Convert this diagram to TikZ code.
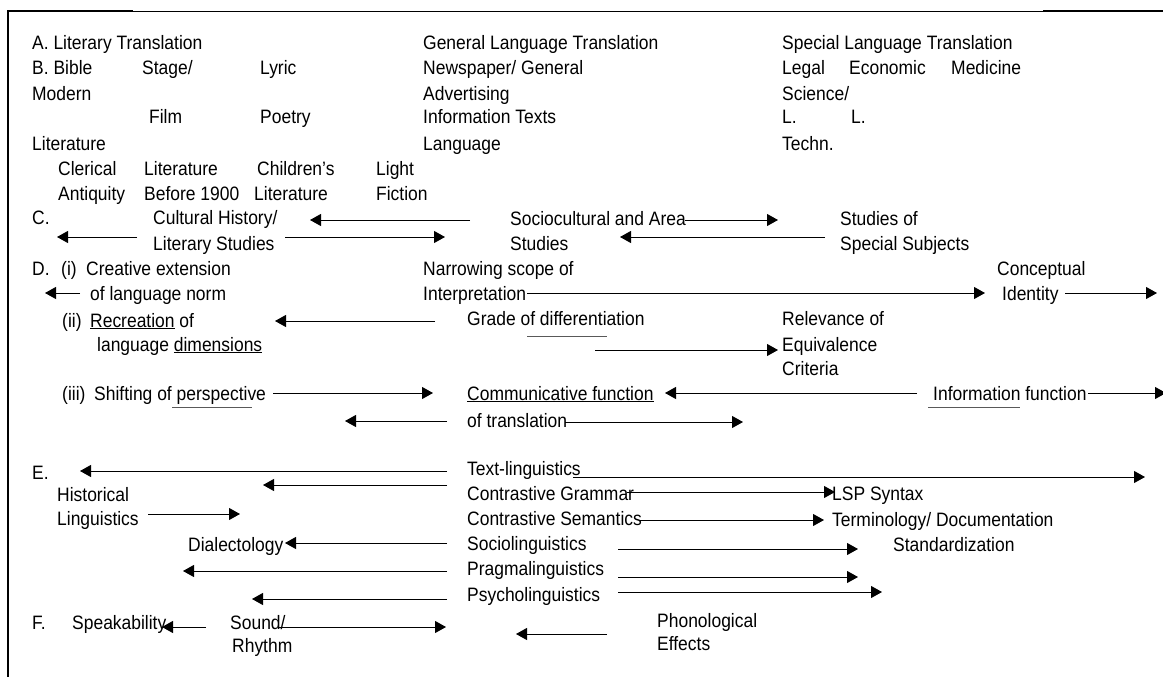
\documentclass[tikz,border=0pt]{standalone}
\usepackage{fontspec}
\setmainfont{Liberation Sans}[FakeStretch=0.9]
\usetikzlibrary{arrows.meta}
\newcommand\myul[1]{\setbox0\hbox{#1}\rlap{\rule[-2.2pt]{\wd0}{1.2pt}}\box0\relax}
\newcommand\tx[4]{\node[txt] (#1) at (#2,#3+7) {#4};}
\newcommand\conn[3]{\coordinate (#1a) at (#2); \coordinate (#1b) at (#3); \draw[arr] (#1a) -- (#1b);}
\tikzset{
  txt/.style={anchor=base west, inner sep=0pt, font=\fontsize{19.4}{22}\selectfont},
  arr/.style={-{Triangle[length=11pt,width=12pt]}, line width=1pt},
  thinline/.style={line width=1pt, draw=black!65},
}
\begin{document}
\begin{tikzpicture}[x=1pt,y=-1pt]
\fill[white] (0,0) rectangle (1163,677);
\useasboundingbox (0,0) rectangle (1163,677);
% frame
\draw[line width=2pt] (8,677) -- (8,11) -- (133,11);
\draw[line width=1pt] (133,12) -- (1043,12);
\draw[line width=2pt] (1043,11) -- (1163,11);
% A / B rows
\tx{a1}{32}{43}{A. Literary Translation}
\tx{gl}{423}{43}{General Language Translation}
\tx{sl}{782}{43}{Special Language Translation}
\tx{b1}{32}{68}{B. Bible}
\tx{b2}{142}{68}{Stage/}
\tx{b3}{260}{68}{Lyric}
\tx{b4}{423}{68}{Newspaper/ General}
\tx{b5}{782}{68}{Legal}
\tx{b6}{849}{68}{Economic}
\tx{b7}{951}{68}{Medicine}
\tx{m1}{32}{93}{Modern}
\tx{m2}{423}{93}{Advertising}
\tx{m3}{782}{93}{Science/}
\tx{f1}{149}{117}{Film}
\tx{f2}{260}{117}{Poetry}
\tx{f3}{423}{117}{Information Texts}
\tx{f4}{782}{117}{L.}
\tx{f5}{851}{117}{L.}
\tx{l1}{32}{143}{Literature}
\tx{l2}{423}{143}{Language}
\tx{l3}{782}{143}{Techn.}
\tx{c1}{58}{168}{Clerical}
\tx{c2}{144}{168}{Literature}
\tx{c3}{257}{168}{Children’s}
\tx{c4}{376}{168}{Light}
\tx{d1}{58}{193}{Antiquity}
\tx{d2}{144}{193}{Before 1900}
\tx{d3}{254}{193}{Literature}
\tx{d4}{376}{193}{Fiction}
% C row
\tx{C}{32}{217}{C.}
\tx{ch}{153}{217}{Cultural History/}
\tx{sc}{510}{218}{Sociocultural and Area}
\tx{so}{840}{218}{Studies of}
\tx{ls}{153}{243}{Literary Studies}
\tx{st}{510}{243}{Studies}
\tx{ss}{840}{243}{Special Subjects}
\conn{k1}{470,220}{310,220}
\conn{k2}{685,220}{778,220}
\conn{k3}{137,237}{57,237}
\conn{k4}{285,237}{445,237}
\conn{k5}{825,237}{620,237}
% D rows
\tx{D}{32}{268}{D.}
\tx{Di}{61}{268}{(i)}
\tx{ce}{86}{268}{Creative extension}
\tx{ns}{423}{268}{Narrowing scope of}
\tx{cp}{997}{268}{Conceptual}
\tx{ln}{90}{293}{of language norm}
\tx{ip}{423}{293}{Interpretation}
\tx{id}{1002}{293}{Identity}
\conn{k6}{80,293}{45,293}
\conn{k7}{527,293}{985,293}
\conn{k8}{1065,293}{1157,293}
\tx{ii}{62}{320}{(ii)}
\tx{rc}{90}{320}{\myul{Recreation} of}
\tx{gd}{467}{318}{Grade of differentiation}
\tx{rv}{782}{318}{Relevance of}
\conn{k9}{435,321}{275,321}
\tx{ld}{97}{344}{language \myul{dimensions}}
\tx{eq}{782}{344}{Equivalence}
\tx{cr}{782}{368}{Criteria}
\coordinate (u1a) at (527,336); \coordinate (u1b) at (607,336);
\draw[thinline] (u1a) -- (u1b);
\conn{k10}{595,350}{778,350}
\tx{iii}{62}{393}{(iii)}
\tx{sp}{94}{393}{Shifting of perspective}
\coordinate (u2a) at (172,407); \coordinate (u2b) at (252,407);
\draw[thinline] (u2a) -- (u2b);
\conn{k11}{273,393}{433,393}
\tx{cf}{467}{393}{\myul{Communicative function}}
\conn{k12}{917,393}{665,393}
\tx{inf}{933}{393}{Information function}
\coordinate (u3a) at (928,407); \coordinate (u3b) at (1020,407);
\draw[thinline] (u3a) -- (u3b);
\conn{k13}{1088,393}{1166,393}
\tx{ot}{467}{420}{of translation}
\conn{k14}{447,421}{345,421}
\conn{k15}{565,422}{743,422}
% E rows
\tx{E}{32}{472}{E.}
\tx{tl}{467}{468}{Text-linguistics}
\conn{k16}{447,471}{80,471}
\conn{k17}{573,477}{1145,477}
\conn{k18}{447,485}{263,485}
\tx{hi}{57}{494}{Historical}
\tx{cg}{467}{493}{Contrastive Grammar}
\conn{k19}{627,492}{835,492}
\tx{lsp}{832}{493}{LSP Syntax}
\tx{li}{57}{518}{Linguistics}
\conn{k20}{148,514}{240,514}
\tx{cs}{467}{518}{Contrastive Semantics}
\conn{k21}{640,520}{824,520}
\tx{tm}{832}{519}{Terminology/ Documentation}
\tx{dl}{188}{544}{Dialectology}
\conn{k22}{447,543}{285,543}
\tx{sol}{467}{543}{Sociolinguistics}
\conn{k23}{618,549}{858,549}
\tx{sd}{893}{544}{Standardization}
\tx{pr}{467}{568}{Pragmalinguistics}
\conn{k24}{447,571}{183,571}
\conn{k25}{618,577}{858,577}
\tx{ps}{467}{594}{Psycholinguistics}
\conn{k26}{447,599}{252,599}
\conn{k27}{618,592}{882,592}
% F row
\tx{F}{32}{622}{F.}
\tx{spk}{72}{622}{Speakability}
\conn{k28}{206,627}{162,627}
\tx{snd}{230}{622}{Sound/}
\tx{rh}{232}{645}{Rhythm}
\conn{k29}{278,627}{446,627}
\conn{k30}{607,634}{516,634}
\tx{ph}{657}{620}{Phonological}
\tx{ef}{657}{643}{Effects}
\end{tikzpicture}
\end{document}
